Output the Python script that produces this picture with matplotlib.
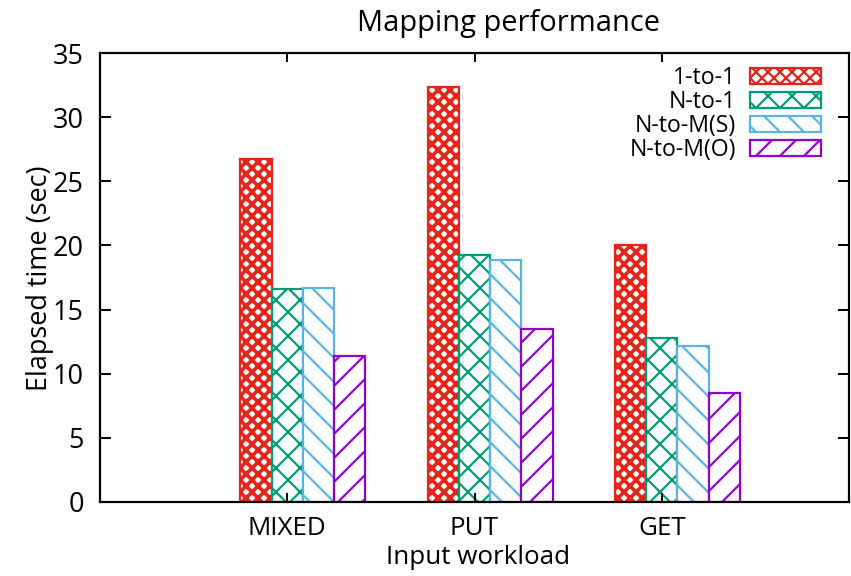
import matplotlib.pyplot as plt
import matplotlib as mpl
import numpy as np

plt.rcParams['font.family'] = ['Open Sans', 'DejaVu Sans']

workloads = ['MIXED', 'PUT', 'GET']
series = ['1-to-1', 'N-to-1', 'N-to-M(S)', 'N-to-M(O)']
one_to_one = [26.7, 32.35, 20.05]
n_to_one = [16.6, 19.25, 12.8]
n_to_m_s = [16.65, 18.85, 12.15]
n_to_m_o = [11.35, 13.45, 8.5]

values = [one_to_one, n_to_one, n_to_m_s, n_to_m_o]
colors = ['#e8231a', '#009e73', '#56b4e9', '#9400d3']
hatches = ['xx', 'x', '\\', '/']
hatch_lw = [3.6, 2.2, 2.2, 2.2]

# 72 dpi so that one point is one pixel
fig = plt.figure(figsize=(851 / 72, 576 / 72), dpi=72)
ax = fig.add_axes([100 / 851, 74 / 576, 749 / 851, 449 / 576])

x = np.arange(len(workloads))
width = 1 / 6
for i, (vals, c, h, lw) in enumerate(zip(values, colors, hatches, hatch_lw)):
    mpl.rcParams['hatch.linewidth'] = lw
    offs = (i - 1) * width
    bars = ax.bar(x + offs, vals, width, facecolor='white', edgecolor=c,
                  hatch=h, linewidth=2.2, label=series[i])
    for b in bars:
        if hasattr(b, 'set_hatch_linewidth'):
            b.set_hatch_linewidth(lw)

ax.set_xlim(-1, 3)
ax.set_ylim(0, 35)
ax.set_yticks(range(0, 36, 5))
ax.set_xticks(x)
ax.set_xticklabels(workloads)
ax.tick_params(axis='both', direction='in', width=2, labelsize=27,
               top=True, right=True)
ax.tick_params(axis='y', length=11, pad=16)
ax.tick_params(axis='x', length=9, pad=14, labelsize=26)
for s in ax.spines.values():
    s.set_linewidth(2.2)

fig.text(508 / 851, 1 - 23 / 576, 'Mapping performance', ha='center', va='center', fontsize=29)
fig.text(478 / 851, 1 - 557 / 576, 'Input workload', ha='center', va='center', fontsize=26)
fig.text(40 / 851, 1 - 278 / 576, 'Elapsed time (sec)', ha='center', va='center',
         rotation=90, fontsize=27)

leg = ax.legend(loc='upper right', bbox_to_anchor=(821 / 851, 1 - 66 / 576),
                bbox_transform=fig.transFigure, frameon=False, markerfirst=False,
                fontsize=23, handlelength=3.1, handleheight=0.65, labelspacing=0.0,
                handletextpad=0.6, borderaxespad=0, borderpad=0)
for t in leg.get_texts():
    t.set_ha('right')
leg._legend_box.align = 'right'

fig.savefig('out.png', dpi=72)
